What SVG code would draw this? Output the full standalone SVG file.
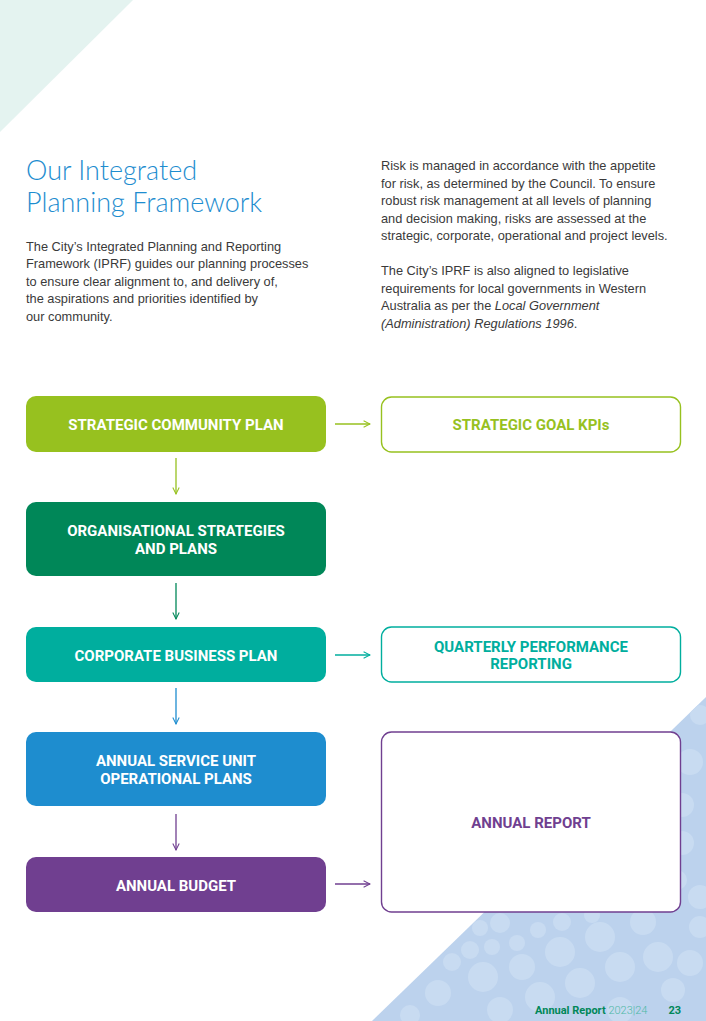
<svg xmlns="http://www.w3.org/2000/svg" width="706" height="1021" viewBox="0 0 706 1021">
<style>
.body{font-family:"Liberation Sans",Arial,sans-serif;font-size:12.8px;fill:#3a3a3a}
.title{font-family:Lato,"Liberation Sans",sans-serif;font-weight:300;font-size:27px;fill:#1e8dcf}
.lbl{font-family:Roboto,"Liberation Sans",sans-serif;font-weight:700;font-size:15px;text-anchor:middle}
.w{fill:#ffffff}
.conn line{stroke-width:1.3;fill:none}
.dot{fill:#c8dbf1}
</style>
<defs>
<marker id="ah" viewBox="0 0 10 10" refX="9" refY="5" markerWidth="8" markerHeight="8" orient="auto" markerUnits="userSpaceOnUse">
<path d="M1,1 L9,5 L1,9" fill="none" stroke="context-stroke" stroke-width="1.3"/>
</marker>
<clipPath id="tri"><polygon points="706,697 706,1021 372,1021"/></clipPath>
</defs>

<!-- background decoration -->
<polygon points="0,0 133,0 0,132" fill="#e4f3f0"/>
<g clip-path="url(#tri)">
<rect x="370" y="690" width="336" height="331" fill="#bcd2ed"/>
<circle class="dot" cx="690" cy="762" r="13"/>
<circle class="dot" cx="682" cy="805" r="12"/>
<circle class="dot" cx="682" cy="843" r="12"/>
<circle class="dot" cx="677" cy="880" r="10"/>
<circle class="dot" cx="700" cy="897" r="12"/>
<circle class="dot" cx="700" cy="715" r="10"/>
<circle class="dot" cx="480" cy="928" r="8"/>
<circle class="dot" cx="500" cy="923" r="10"/>
<circle class="dot" cx="517" cy="943" r="8"/>
<circle class="dot" cx="492" cy="947" r="8"/>
<circle class="dot" cx="470" cy="950" r="9"/>
<circle class="dot" cx="538" cy="930" r="8"/>
<circle class="dot" cx="562" cy="922" r="9"/>
<circle class="dot" cx="560" cy="952" r="15"/>
<circle class="dot" cx="600" cy="937" r="15"/>
<circle class="dot" cx="592" cy="915" r="8"/>
<circle class="dot" cx="643" cy="922" r="13"/>
<circle class="dot" cx="658" cy="957" r="15"/>
<circle class="dot" cx="620" cy="967" r="15"/>
<circle class="dot" cx="522" cy="967" r="13"/>
<circle class="dot" cx="483" cy="977" r="15"/>
<circle class="dot" cx="452" cy="962" r="9"/>
<circle class="dot" cx="438" cy="993" r="13"/>
<circle class="dot" cx="580" cy="983" r="15"/>
<circle class="dot" cx="540" cy="997" r="15"/>
<circle class="dot" cx="500" cy="1010" r="13"/>
<circle class="dot" cx="690" cy="963" r="13"/>
<circle class="dot" cx="700" cy="927" r="11"/>
<circle class="dot" cx="673" cy="990" r="12"/>
<circle class="dot" cx="620" cy="1010" r="13"/>
<circle class="dot" cx="410" cy="1015" r="10"/>
</g>

<!-- heading and text -->
<text class="title" x="26" y="180">Our Integrated</text>
<text class="title" x="26" y="212">Planning Framework</text>
<text class="body" x="26" y="251">The City’s Integrated Planning and Reporting</text>
<text class="body" x="26" y="268">Framework (IPRF) guides our planning processes</text>
<text class="body" x="26" y="286">to ensure clear alignment to, and delivery of,</text>
<text class="body" x="26" y="303">the aspirations and priorities identified by</text>
<text class="body" x="26" y="321">our community.</text>

<text class="body" x="381" y="170">Risk is managed in accordance with the appetite</text>
<text class="body" x="381" y="188">for risk, as determined by the Council. To ensure</text>
<text class="body" x="381" y="205">robust risk management at all levels of planning</text>
<text class="body" x="381" y="223">and decision making, risks are assessed at the</text>
<text class="body" x="381" y="240">strategic, corporate, operational and project levels.</text>
<text class="body" x="381" y="275">The City’s IPRF is also aligned to legislative</text>
<text class="body" x="381" y="293">requirements for local governments in Western</text>
<text class="body" x="381" y="310">Australia as per the <tspan font-style="italic">Local Government</tspan></text>
<text class="body" x="381" y="328"><tspan font-style="italic">(Administration) Regulations 1996</tspan>.</text>

<!-- connectors -->
<g class="conn">
<line x1="335" y1="424" x2="370" y2="424" stroke="#97c11f" marker-end="url(#ah)"/>
<line x1="176" y1="458" x2="176" y2="494" stroke="#97c11f" marker-end="url(#ah)"/>
<line x1="176" y1="583" x2="176" y2="619" stroke="#008758" marker-end="url(#ah)"/>
<line x1="335" y1="655" x2="370" y2="655" stroke="#00ae9e" marker-end="url(#ah)"/>
<line x1="176" y1="688" x2="176" y2="724" stroke="#1e8dcf" marker-end="url(#ah)"/>
<line x1="176" y1="814" x2="176" y2="850" stroke="#703f90" marker-end="url(#ah)"/>
<line x1="335" y1="884" x2="370" y2="884" stroke="#703f90" marker-end="url(#ah)"/>
</g>

<!-- nodes -->
<g id="scp">
<rect x="26" y="396" width="300" height="56" rx="10" fill="#97c11f"/>
<text class="lbl w" x="176" y="430">STRATEGIC COMMUNITY PLAN</text>
</g>
<g id="kpi">
<rect x="381.5" y="397" width="299" height="55" rx="10" fill="#ffffff" stroke="#97c11f" stroke-width="1.4"/>
<text class="lbl" x="531" y="430" fill="#97c11f">STRATEGIC GOAL KPIs</text>
</g>
<g id="osp">
<rect x="26" y="502" width="300" height="74" rx="10" fill="#008758"/>
<text class="lbl w" x="176" y="536">ORGANISATIONAL STRATEGIES</text>
<text class="lbl w" x="176" y="554">AND PLANS</text>
</g>
<g id="cbp">
<rect x="26" y="627" width="300" height="55" rx="10" fill="#00ae9e"/>
<text class="lbl w" x="176" y="661">CORPORATE BUSINESS PLAN</text>
</g>
<g id="qpr">
<rect x="381.5" y="627" width="299" height="55" rx="10" fill="#ffffff" stroke="#00ae9e" stroke-width="1.4"/>
<text class="lbl" x="531" y="652" fill="#00ae9e">QUARTERLY PERFORMANCE</text>
<text class="lbl" x="531" y="669" fill="#00ae9e">REPORTING</text>
</g>
<g id="asu">
<rect x="26" y="732" width="300" height="74" rx="10" fill="#1e8dcf"/>
<text class="lbl w" x="176" y="766">ANNUAL SERVICE UNIT</text>
<text class="lbl w" x="176" y="784">OPERATIONAL PLANS</text>
</g>
<g id="ab">
<rect x="26" y="857" width="300" height="55" rx="10" fill="#703f90"/>
<text class="lbl w" x="176" y="891">ANNUAL BUDGET</text>
</g>
<g id="ar">
<rect x="381.5" y="732" width="299" height="180" rx="10" fill="#ffffff" stroke="#703f90" stroke-width="1.4"/>
<text class="lbl" x="531" y="828" fill="#703f90">ANNUAL REPORT</text>
</g>

<!-- footer -->
<text x="535" y="1014" font-family="Roboto,'Liberation Sans',sans-serif" font-size="11" font-weight="700" fill="#008758">Annual Report <tspan font-weight="300" fill="#4fb9a6">2023|24</tspan></text>
<text x="681" y="1014" font-family="Roboto,'Liberation Sans',sans-serif" font-size="11" font-weight="700" fill="#008758" text-anchor="end">23</text>
</svg>
